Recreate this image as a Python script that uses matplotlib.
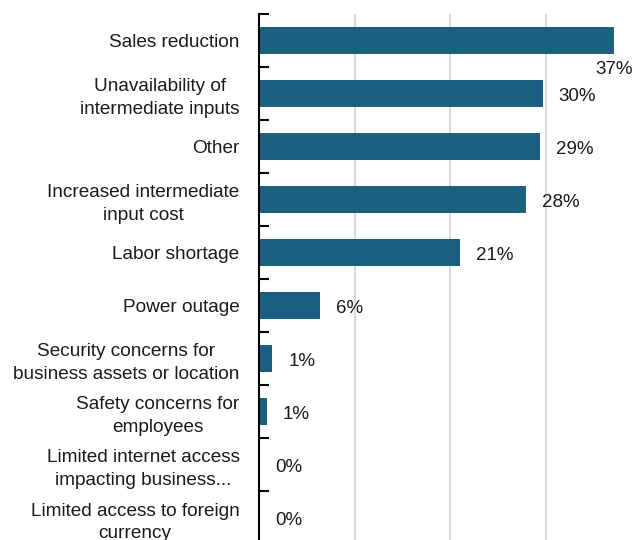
import matplotlib
matplotlib.use("Agg")
import matplotlib.pyplot as plt
from matplotlib.ticker import FixedLocator

categories = [
    "Sales reduction",
    "Unavailability of\nintermediate inputs",
    "Other",
    "Increased intermediate\ninput cost",
    "Labor shortage",
    "Power outage",
    "Security concerns for\nbusiness assets or location",
    "Safety concerns for\nemployees",
    "Limited internet access\nimpacting business...",
    "Limited access to foreign\ncurrency",
]
values = [37.2, 29.7, 29.4, 28.0, 21.0, 6.4, 1.4, 0.8, 0.0, 0.0]
grid_values = [10, 20, 30, 40]

bar_color = "#1A5F7F"
text_color = "#1A1A1A"
font = ["Liberation Sans", "DejaVu Sans"]
plt.rcParams["font.family"] = font

fig = plt.figure(figsize=(6.35, 5.4), dpi=100)
ax = fig.add_axes([259 / 635, -4 / 540, 382 / 635, 530 / 540])

pos = list(range(len(categories)))
ax.barh(pos, values, height=0.5, color=bar_color, zorder=3)

ax.set_xlim(0, 40)
ax.set_ylim(len(categories) - 0.5, -0.5)

for x in grid_values:
    ax.axvline(x, color="#D9D9D9", lw=1.5, zorder=1)

for p, v in zip(pos, values):
    label = f"{v:.0f}%"
    if v > 35:
        ax.annotate(label, (v, p + 0.5), xytext=(0, -1.5),
                    textcoords="offset points", ha="center", va="center",
                    fontsize=13.5, color=text_color, zorder=4)
    else:
        ax.annotate(label, (v, p), xytext=(11.5, -2.2),
                    textcoords="offset points", ha="left", va="center",
                    fontsize=13.5, color=text_color, zorder=4)

ax.set_yticks(pos)
ax.set_yticklabels(categories, multialignment="center", fontsize=13.7,
                   linespacing=1.45, color=text_color)
ax.tick_params(axis="y", which="major", length=0, pad=14)
ax.yaxis.set_minor_locator(FixedLocator([p - 0.5 for p in range(len(categories) + 1)]))
ax.tick_params(axis="y", which="minor", direction="in", length=7, width=1.5,
               color="black")
ax.set_xticks([])

for side in ("top", "right", "bottom"):
    ax.spines[side].set_visible(False)
ax.spines["left"].set_linewidth(1.5)
ax.spines["left"].set_color("black")
ax.spines["left"].set_zorder(5)

fig.savefig("out.png", dpi=100)
